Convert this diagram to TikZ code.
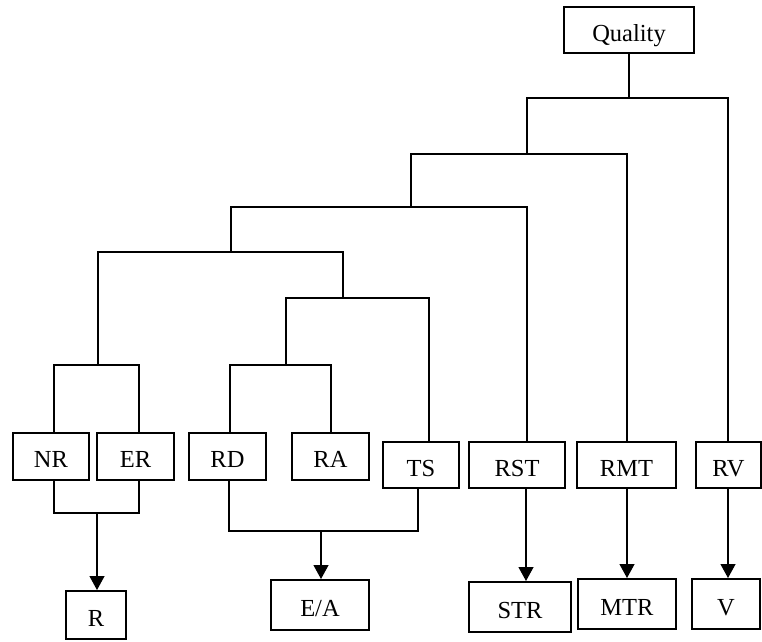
\documentclass[tikz,border=0pt]{standalone}
\usepackage{fontspec}
\setmainfont{Liberation Serif}
\usetikzlibrary{arrows.meta}
\begin{document}
\begin{tikzpicture}[x=1pt,y=-1pt,
  box/.style={draw, line width=1.3pt, inner sep=0pt, align=center,
    font=\fontsize{24.5}{28}\selectfont, text height=22pt, text depth=0pt},
  outbox/.style={box, line width=2pt},
  link/.style={line width=1.2pt},
  arr/.style={line width=1.2pt, -{Triangle[length=14pt,width=15pt]}}]
\useasboundingbox (0,0) rectangle (762,641);

% criteria
\node[box, minimum width=130pt, minimum height=46pt] (Q)   at (629,30)    {Quality};
\node[box, minimum width=76pt,  minimum height=47pt] (NR)  at (51,456.5)  {NR};
\node[box, minimum width=77pt,  minimum height=47pt] (ER)  at (135.5,456.5) {ER};
\node[box, minimum width=77pt,  minimum height=47pt] (RD)  at (227.5,456.5) {RD};
\node[box, minimum width=77pt,  minimum height=47pt] (RA)  at (330.5,456.5) {RA};
\node[box, minimum width=76pt,  minimum height=46pt] (TS)  at (421,465)   {TS};
\node[box, minimum width=96pt,  minimum height=46pt] (RST) at (517,465)   {RST};
\node[box, minimum width=99pt,  minimum height=46pt] (RMT) at (626.5,465) {RMT};
\node[box, minimum width=65pt,  minimum height=46pt] (RV)  at (728.5,465) {RV};

% outcomes
\node[outbox, minimum width=60pt,  minimum height=48pt] (R)   at (96,615)  {R};
\node[outbox, minimum width=98pt,  minimum height=50pt] (EA)  at (320,605) {E/A};
\node[outbox, minimum width=102pt, minimum height=50pt] (STR) at (520,607) {STR};
\node[outbox, minimum width=98pt,  minimum height=50pt] (MTR) at (627,604) {MTR};
\node[outbox, minimum width=68pt,  minimum height=50pt] (V)   at (726,604) {V};

% bracket corners of the hierarchy
\coordinate (b1l) at (527,98);  \coordinate (b1r) at (728,98);
\coordinate (b2l) at (411,154); \coordinate (b2r) at (627,154);
\coordinate (b3l) at (231,207); \coordinate (b3r) at (527,207);
\coordinate (b4l) at (98,252);  \coordinate (b4r) at (343,252);
\coordinate (b5l) at (286,298); \coordinate (b5r) at (429,298);
\coordinate (b6l) at (230,365); \coordinate (b6r) at (331,365);
\coordinate (b7l) at (54,365);  \coordinate (b7r) at (139,365);

% hierarchy
\draw[link] (Q.south) -- (Q.south |- b1l);
\draw[link] (b1l |- b2l) -- (b1l) -- (b1r) -- (b1r |- RV.north);
\draw[link] (b2l |- b3l) -- (b2l) -- (b2r) -- (b2r |- RMT.north);
\draw[link] (b3l |- b4l) -- (b3l) -- (b3r) -- (b3r |- RST.north);
\draw[link] (b4l |- b7l) -- (b4l) -- (b4r) -- (b4r |- b5l);
\draw[link] (b5l |- b6l) -- (b5l) -- (b5r) -- (b5r |- TS.north);
\draw[link] (b6l |- RD.north) -- (b6l) -- (b6r) -- (b6r |- RA.north);
\draw[link] (b7l |- NR.north) -- (b7l) -- (b7r) -- (b7r |- ER.north);

% grouping into outcomes
\coordinate (g1l) at (54,513);  \coordinate (g1r) at (139,513);
\coordinate (g2l) at (229,531); \coordinate (g2r) at (418,531);
\coordinate (g1) at (97,513);   \coordinate (g2) at (321,531);
\draw[link] (g1l |- NR.south) -- (g1l) -- (g1r) -- (g1r |- ER.south);
\draw[link] (g2l |- RD.south) -- (g2l) -- (g2r) -- (g2r |- TS.south);
\draw[arr] (g1) -- (g1 |- R.north);
\draw[arr] (g2) -- (g2 |- EA.north);
\coordinate (s1) at (526,0); \coordinate (s2) at (627,0); \coordinate (s3) at (728,0);
\draw[arr] (s1 |- RST.south) -- (s1 |- STR.north);
\draw[arr] (s2 |- RMT.south) -- (s2 |- MTR.north);
\draw[arr] (s3 |- RV.south) -- (s3 |- V.north);
\end{tikzpicture}
\end{document}
